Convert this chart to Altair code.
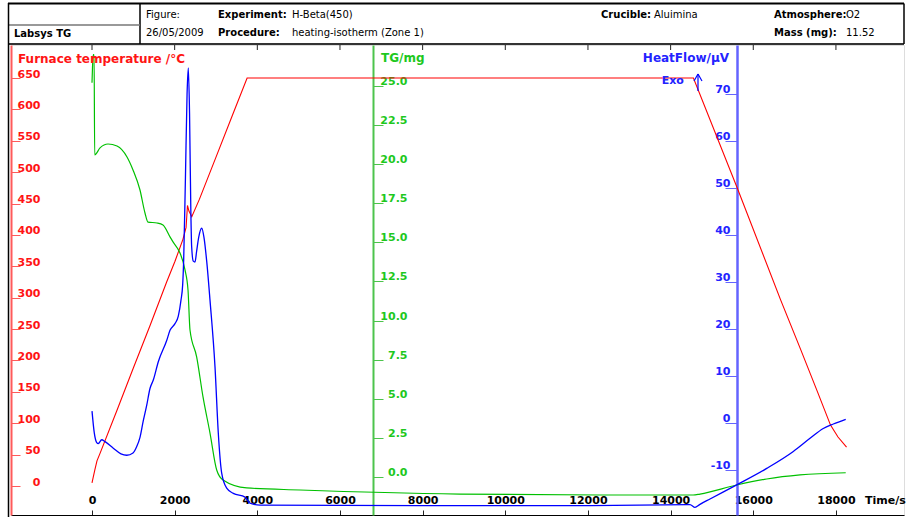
import altair as alt
import pandas as pd

# ---- series: time (s) ----------------------------------------------------
temp_time = [0, 30, 70, 120, 194, 600, 1000, 1400, 1806, 2008, 2200, 2276, 2310,
             2345, 2414, 2600, 3000, 3400, 3753, 14552, 15617, 16659, 17143,
             17554, 17869, 18050, 18257]
temp_vals = [5, 14, 26, 40, 52, 120, 188, 255, 325, 358, 393, 412, 447,
             438, 429, 457, 524, 591, 650, 650, 474, 297, 218,
             150, 97, 78, 62]

tg_time = [0, 12, 30, 50, 65, 194, 387, 605, 847, 992, 1161, 1282, 1355, 1573,
           1718, 1887, 1960, 2129, 2250, 2323, 2371, 2533, 2686, 2855, 3017,
           3170, 3743, 5033, 8904, 12291, 14542, 14711, 15599, 16325, 17131,
           18237]
tg_vals = [25.2, 26.2, 27.0, 27.0, 20.6, 21.04, 21.29, 21.16, 20.46, 19.63,
           18.35, 16.88, 16.30, 16.24, 16.11, 15.35, 15.03, 14.32, 13.24, 11.96,
           9.40, 7.67, 5.12, 2.81, 0.45, -0.19, -0.70, -0.83, -1.09, -1.15,
           -1.15, -1.09, -0.51, -0.13, 0.13, 0.27]

hf_time = [0, 56, 114, 152, 235, 315, 515, 700, 840, 992, 1080, 1161, 1240,
           1323, 1403, 1483, 1604, 1807, 1887, 2008, 2088, 2153, 2194, 2218,
           2260, 2300, 2330, 2360, 2390, 2411, 2450, 2492, 2530, 2580, 2655,
           2710, 2775, 2855, 2976, 3056, 3138, 3259, 3419, 3702, 3823, 4065,
           8000, 12000, 14469, 14590, 14700, 14953, 15599, 16325, 16969, 17373,
           17694, 17936, 18237]
hf_vals = [2.6, -2.1, -4.1, -4.3, -3.5, -3.9, -5.3, -6.5, -6.8, -6.3, -5.0,
           -3.0, 0.5, 3.8, 7.4, 9.2, 13.1, 17.6, 19.8, 21.2, 22.8, 26.2, 29.5,
           34.7, 52, 70, 75.6, 66, 46, 37.6, 34.5, 34.3, 36.5, 39.5, 41.5, 39.5,
           34.5, 26.2, 12.0, -2.1, -10.6, -13.8, -14.9, -15.7, -17.0, -17.4,
           -17.5, -17.5, -17.3, -17.9, -17.3, -16.1, -13.1, -9.6, -6.0, -3.2,
           -1.1, -0.15, 0.85]

# ---- tick labels -----------------------------------------------------------
time_ticks = [0, 2000, 4000, 6000, 8000, 10000, 12000, 14000, 16000, 18000]
temp_ticks = list(range(0, 651, 50))
tg_ticks = [0, 2.5, 5, 7.5, 10, 12.5, 15, 17.5, 20, 22.5, 25]
hf_ticks = [-10, 0, 10, 20, 30, 40, 50, 60, 70]

FONT = "DejaVu Sans"
RED, GREEN, BLUE = "#ff0000", "#00c000", "#0000ff"
W, H = 893, 470

temp_df = pd.DataFrame({"t": temp_time, "v": temp_vals})
tg_df = pd.DataFrame({"t": tg_time, "v": tg_vals})
hf_df = pd.DataFrame({"t": hf_time, "v": hf_vals})
tick_df = pd.DataFrame({"t": time_ticks})

x_scale = alt.Scale(domain=[-1960, 19647], nice=False, zero=False)
x_axis = alt.Axis(orient="top", offset=-H, values=time_ticks, format="d",
                  title=None, grid=False, tickSize=5, labelPadding=5,
                  labelFont=FONT, labelFontSize=11, labelFontWeight="bold",
                  labelColor="black", tickColor="#222222",
                  domainColor="black", domainWidth=1.2, labelFlush=False,
                  labelOverlap=False)
x_enc = alt.X("t:Q", scale=x_scale, axis=x_axis)


def y_axis(orient, offset, values, color, tick_color, size, pad, fmt, dom_w,
           lab_off):
    return alt.Axis(orient=orient, offset=offset, values=values, title=None,
                    grid=False, tickSize=size, labelPadding=pad,
                    labelAlign="right", labelBaseline="alphabetic",
                    labelOffset=lab_off, format=fmt,
                    labelExpr="replace(datum.label, '\u2212', '-')",
                    labelFont=FONT,
                    labelFontSize=11, labelFontWeight="bold",
                    labelColor=color, tickColor=tick_color,
                    domainColor=tick_color, domainWidth=dom_w,
                    labelOverlap=False, labelFlush=False)


temp_line = alt.Chart(temp_df).mark_line(color=RED, strokeWidth=1.1).encode(
    x=x_enc,
    y=alt.Y("v:Q", scale=alt.Scale(domain=[-46.2, 702.6], nice=False, zero=False),
            axis=y_axis("right", -W, temp_ticks, "#ff1414", "#ff5a5a", 9, 20,
                        "d", 2, -1)),
)

tg_line = alt.Chart(tg_df).mark_line(color=GREEN, strokeWidth=1.2,
                                     interpolate="monotone").encode(
    x=x_enc,
    y=alt.Y("v:Q", scale=alt.Scale(domain=[-2.43, 27.62], nice=False, zero=False),
            axis=y_axis("right", 362 - W, tg_ticks, "#1ec81e", "#4cc44c", 10, 24,
                        ".1f", 2, -1.5)),
)

hf_line = alt.Chart(hf_df).mark_line(color=BLUE, strokeWidth=1.3,
                                     interpolate="monotone").encode(
    x=x_enc,
    y=alt.Y("v:Q", scale=alt.Scale(domain=[-19.51, 80.49], nice=False, zero=False),
            axis=y_axis("left", -726, hf_ticks, "#2323ff", "#6464ff", 12, -5,
                        "d", 2.5, -2)),
)

# small ticks hanging from the top edge of the plot frame
top_ticks = alt.Chart(tick_df).mark_rule(color="#222222", strokeWidth=1).encode(
    x=x_enc, y=alt.value(0), y2=alt.value(5)
)


def rule(x1, y1, x2, y2, color="black", width=1.0):
    return alt.Chart(pd.DataFrame({"a": [0]})).mark_rule(
        color=color, strokeWidth=width).encode(
        x=alt.value(x1), y=alt.value(y1), x2=alt.value(x2), y2=alt.value(y2))


def label(txt, x, y, size=10, bold=False, color="black", align="left"):
    return alt.Chart(pd.DataFrame({"a": [0]})).mark_text(
        text=txt, font=FONT, fontSize=size,
        fontWeight="bold" if bold else "normal", color=color, align=align,
        baseline="middle").encode(x=alt.value(x), y=alt.value(y))


# header table and frame
frame = [
    rule(-3, -41.5, 893, -41.5, "black", 2),
    rule(-3, -1, 893, -1, "#333333", 2),
    rule(893, -41.5, 893, -1, "black", 1.5),
    rule(129, -41.5, 129, -1, "black", 1.5),
    rule(-3, -20, 129, -20, "#777777", 1.5),
    rule(-2.5, -42, -2.5, 472, "black", 1.5),
]

header = [
    label("Labsys TG", 3, -11.5, bold=True),
    label("Figure:", 135, -30),
    label("26/05/2009", 135, -12.5),
    label("Experiment:", 207, -30, bold=True),
    label("H-Beta(450)", 281, -30),
    label("Procedure:", 207, -12.5, bold=True),
    label("heating-isotherm (Zone 1)", 281, -12.5),
    label("Crucible:", 590, -30, bold=True),
    label("Aluimina", 643, -30),
    label("Atmosphere:", 763, -30, bold=True),
    label("O2", 835, -30),
    label("Mass (mg):", 763, -12.5, bold=True),
    label("11.52", 835, -12.5),
]

titles = [
    label("Furnace temperature /°C", 7, 14, size=12, bold=True, color="#ff1414"),
    label("TG/mg", 370, 13, size=12, bold=True, color="#1ec81e"),
    label("HeatFlow/µV", 718, 13, size=12, bold=True, color="#2323ff",
          align="right"),
    label("Exo", 650.7, 35.7, size=11, bold=True, color="#2323ff"),
    label("Time/s", 854, 455.7, size=11, bold=True),
    rule(687, 29, 687, 46, BLUE, 1.2),
    rule(683, 36, 687, 29, BLUE, 1.2),
    rule(687, 29, 691, 36, BLUE, 1.2),
]

chart = alt.layer(
    temp_line, tg_line, hf_line, top_ticks, *frame, *header, *titles
).resolve_scale(y="independent").resolve_axis(y="independent").properties(
    width=W, height=H,
    padding={"left": 11, "top": 45, "right": 3, "bottom": 2},
    autosize="none",
).configure_view(stroke=None).configure(background="white")

chart.save("out.html", embed_options={"renderer": "svg", "actions": False})
